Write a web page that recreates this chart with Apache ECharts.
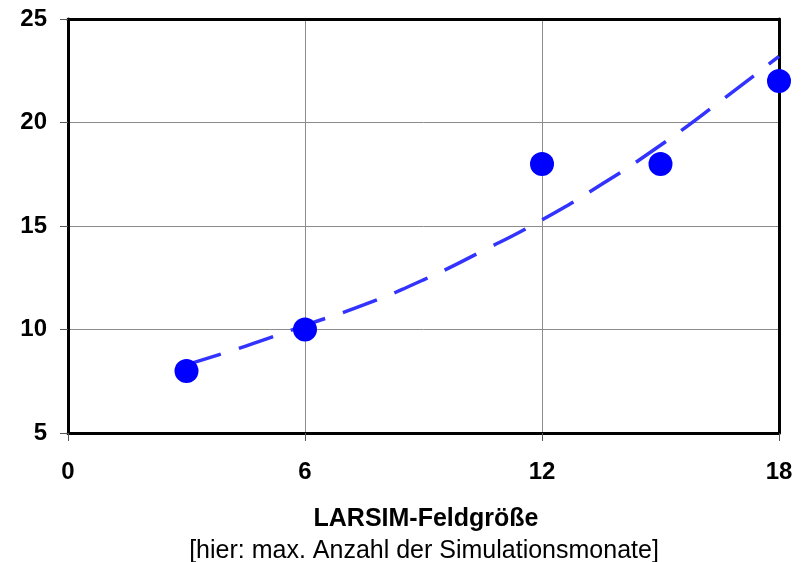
<!DOCTYPE html>
<html>
<head>
<meta charset="utf-8">
<script src="https://cdn.jsdelivr.net/npm/echarts@6/dist/echarts.min.js"></script>
<style>
html,body{margin:0;padding:0;background:#fff;}
#chart{width:807px;height:562px;}
</style>
</head>
<body>
<div id="chart"></div>
<script>
// Observed data points (x, y)
const pointsX = [3, 6, 12, 15, 18];
const pointsY = [8, 10, 18, 18, 22];
// Dashed trend line
const trendX = [3, 4.5, 6, 7.5, 9, 10.5, 12, 13.5, 15, 16.5, 18];
const trendY = [8.3, 9.2, 10.2, 11.2, 12.4, 13.8, 15.3, 17.0, 18.9, 21.0, 23.2];
// Axis settings
const xTicks = [0, 6, 12, 18];
const yTicks = [5, 10, 15, 20, 25];
const xTitle = 'LARSIM-Feldgröße';
const xSubtitle = '[hier: max. Anzahl der Simulationsmonate]';

const FONT = '"Liberation Sans", Arial, sans-serif';
const chart = echarts.init(document.getElementById('chart'), null, {renderer: 'canvas'});

const pointData = pointsX.map((x, i) => [x, pointsY[i]]);
const trendData = trendX.map((x, i) => [x, trendY[i]]);

chart.setOption({
  animation: false,
  backgroundColor: '#ffffff',
  grid: {left: 68, right: 28, top: 19, bottom: 129, containLabel: false},
  xAxis: [{
    type: 'value',
    min: xTicks[0], max: xTicks[xTicks.length - 1], interval: 6,
    axisLine: {show: true, onZero: false, lineStyle: {color: '#000', width: 3}},
    axisTick: {show: true, inside: false, length: 8, lineStyle: {color: '#555', width: 1}},
    axisLabel: {show: true, margin: 27, color: '#000', fontFamily: FONT, fontWeight: 'bold', fontSize: 24},
    splitLine: {show: true, showMinLine: false, showMaxLine: false, lineStyle: {color: '#8c8c8c', width: 1}}
  }, {
    type: 'value', position: 'top',
    min: xTicks[0], max: xTicks[xTicks.length - 1], interval: 6,
    axisLine: {show: true, onZero: false, lineStyle: {color: '#000', width: 3}},
    axisTick: {show: false}, axisLabel: {show: false}, splitLine: {show: false}
  }],
  yAxis: [{
    type: 'value',
    min: yTicks[0], max: yTicks[yTicks.length - 1], interval: 5,
    axisLine: {show: true, onZero: false, lineStyle: {color: '#000', width: 3}},
    axisTick: {show: true, inside: false, length: 8, lineStyle: {color: '#555', width: 1}},
    axisLabel: {show: true, margin: 21, color: '#000', fontFamily: FONT, fontWeight: 'bold', fontSize: 24},
    splitLine: {show: true, showMinLine: false, showMaxLine: false, lineStyle: {color: '#8c8c8c', width: 1}}
  }, {
    type: 'value', position: 'right',
    min: yTicks[0], max: yTicks[yTicks.length - 1], interval: 5,
    axisLine: {show: true, onZero: false, lineStyle: {color: '#000', width: 3}},
    axisTick: {show: false}, axisLabel: {show: false}, splitLine: {show: false}
  }],
  graphic: [{
    type: 'text', x: 426, y: 519, z: 10,
    style: {text: xTitle, font: 'bold 25px ' + FONT, fill: '#000', align: 'center', verticalAlign: 'middle'}
  }, {
    type: 'text', x: 424, y: 551, z: 10,
    style: {text: xSubtitle, font: '25px ' + FONT, fill: '#000', align: 'center', verticalAlign: 'middle'}
  }],
  series: [{
    type: 'line',
    data: trendData,
    smooth: true,
    symbol: 'none',
    clip: false,
    z: 3,
    lineStyle: {color: '#3333ff', width: 3.5, type: [36, 19], cap: 'butt'}
  }, {
    type: 'scatter',
    data: pointData,
    symbol: 'circle',
    symbolSize: 24,
    clip: false,
    z: 5,
    itemStyle: {color: '#0000ff', opacity: 1}
  }]
});
</script>
</body>
</html>
